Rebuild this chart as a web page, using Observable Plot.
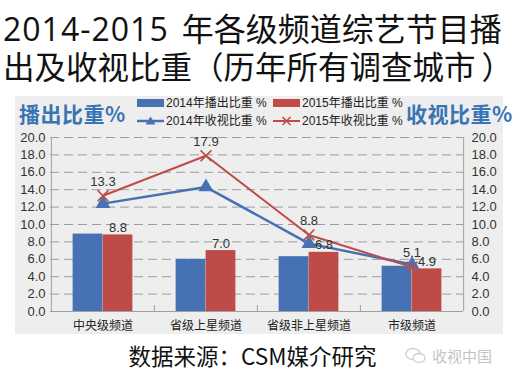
<!DOCTYPE html>
<html><head><meta charset="utf-8">
<script src="https://cdn.jsdelivr.net/npm/d3@7"></script>
<script src="https://cdn.jsdelivr.net/npm/@observablehq/plot@0.6"></script>
<style>
body{margin:0;background:#fff;width:517px;height:381px;overflow:hidden;position:relative;font-family:"Noto Sans CJK SC",sans-serif;}
.tl{position:absolute;left:3px;font-size:32px;line-height:38px;height:38px;color:#111;white-space:nowrap;font-family:"Open Sans","Noto Sans CJK SC",sans-serif;}
#panel{position:absolute;left:15px;top:96px;width:488px;height:238px;background:#eeeeee;}
#chart{position:absolute;left:0;top:97px;}
.lg{position:absolute;font-size:12px;line-height:14px;color:#222;white-space:nowrap;font-family:"Liberation Sans","Noto Sans CJK SC",sans-serif;}
.ax{position:absolute;font-size:21px;font-weight:bold;color:#3a74b4;line-height:24px;white-space:nowrap;letter-spacing:0.5px;}
#caption{position:absolute;left:0;width:505px;text-align:center;top:341px;font-size:22.5px;line-height:28px;color:#111;}
#wm{position:absolute;left:432px;top:346px;font-size:15px;line-height:20px;color:#c4c4c4;}
</style></head>
<body>
<div class="tl" style="top:10px"><span style="letter-spacing:1px">2014-2015</span><span style="display:inline-block;width:13px"></span>年各级频道综艺节目播</div>
<div class="tl" style="top:48px;left:3px;font-size:31.5px">出及收视比重（历年所有调查城市<span style="display:inline-block;width:6px"></span>）</div>
<div id="panel"></div>
<div id="chart"></div>
<div class="ax" style="left:19px;top:101px;">播出比重%</div>
<div class="ax" style="left:406px;top:101px;">收视比重%</div>
<div id="legend"></div>
<div id="caption">数据来源：CSM媒介研究</div>
<svg style="position:absolute;left:404px;top:346px" width="24" height="20"><ellipse cx="9" cy="8" rx="7" ry="5.5" fill="none" stroke="#cfcfcf" stroke-width="1.3"/><ellipse cx="15" cy="12" rx="6" ry="4.5" fill="#fff" stroke="#cfcfcf" stroke-width="1.3"/></svg>
<div id="wm">收视中国</div>
<script>
const categories = ["中央级频道", "省级上星频道", "省级非上星频道", "市级频道"];
const share2014 = [8.9, 6.0, 6.3, 5.2];
const share2015 = [8.8, 7.0, 6.8, 4.9];
const rating2014 = [12.4, 14.3, 7.8, 5.4];
const rating2015 = [13.3, 17.9, 8.8, 5.1];
const yTicks = [0, 2, 4, 6, 8, 10, 12, 14, 16, 18, 20];
const legendLabels = ["2014年播出比重 %", "2015年播出比重 %", "2014年收视比重 %", "2015年收视比重 %"];

const blue = "#4672b4";
const red = "#be4b48";
const data = categories.map((c, i) => ({c, s14: share2014[i], s15: share2015[i], r14: rating2014[i], r15: rating2015[i]}));

const W = 517, H = 245, mL = 50, mR = 54, mT = 40, mB = 31;
const bw = (W - mL - mR) / categories.length;
const barW = 30;
const fmt = d3.format(".1f");
const numFont = "'Liberation Sans', Arial, sans-serif";

const chart = Plot.plot({
  width: W, height: H, marginLeft: mL, marginRight: mR, marginTop: mT, marginBottom: mB,
  style: {background: "transparent", fontFamily: numFont, fontSize: "13px", color: "#333", overflow: "visible"},
  x: {domain: categories, padding: 0, label: null, axis: null},
  y: {domain: [0, 20], label: null, axis: null},
  marks: [
    Plot.ruleY(yTicks.slice(1), {stroke: "#9c9c9c", strokeDasharray: "9,5", strokeWidth: 1}),
    Plot.ruleX([categories[0]], {dx: -bw / 2, stroke: "#a0a0a0"}),
    Plot.ruleX([categories[categories.length - 1]], {dx: bw / 2, stroke: "#a0a0a0"}),
    Plot.ruleX(categories.slice(1), {dx: -bw / 2, stroke: "#a0a0a0", insetTop: H - mT - mB - 6}),
    Plot.barY(data, {x: "c", y: "s14", fill: blue, insetLeft: bw / 2 - barW, insetRight: bw / 2}),
    Plot.barY(data, {x: "c", y: "s15", fill: red, insetLeft: bw / 2, insetRight: bw / 2 - barW}),
    Plot.ruleY([0], {stroke: "#a0a0a0"}),
    Plot.axisY({anchor: "left", ticks: yTicks, tickFormat: fmt, tickSize: 0, tickPadding: 5, fontSize: 13, fill: "#333", label: null}),
    Plot.axisY({anchor: "right", ticks: yTicks, tickFormat: fmt, tickSize: 0, tickPadding: 8, fontSize: 13, fill: "#333", label: null}),
    Plot.axisX({tickSize: 0, tickPadding: 10, fontSize: 12, fill: "#222", label: null, fontFamily: "'Noto Sans CJK SC', sans-serif"}),
    Plot.line(data, {x: "c", y: "r14", stroke: blue, strokeWidth: 2.5}),
    Plot.dot(data, {x: "c", y: "r14", symbol: "triangle", fill: blue, r: 5.5}),
    Plot.line(data, {x: "c", y: "r15", stroke: red, strokeWidth: 2}),
    Plot.dot(data, {x: "c", y: "r15", symbol: "times", stroke: red, strokeWidth: 1.6, r: 5}),
    Plot.text(data, {x: "c", y: "s15", text: d => fmt(d.s15), dx: barW / 2, dy: -3, lineAnchor: "bottom", fontSize: 13, fill: "#333"}),
    Plot.text(data, {x: "c", y: "r15", text: d => fmt(d.r15), dy: -10, lineAnchor: "bottom", fontSize: 13, fill: "#333"})
  ]
});
document.getElementById("chart").appendChild(chart);

// legend
const lg = document.getElementById("legend");
const items = [
  {label: legendLabels[0], kind: "rect", color: blue, x: 137, y: 103},
  {label: legendLabels[1], kind: "rect", color: red, x: 273, y: 103},
  {label: legendLabels[2], kind: "tri", color: blue, x: 137, y: 121},
  {label: legendLabels[3], kind: "x", color: red, x: 273, y: 121}
];
for (const it of items) {
  const ns = "http://www.w3.org/2000/svg";
  const s = document.createElementNS(ns, "svg");
  s.setAttribute("width", 28); s.setAttribute("height", 14);
  s.style.position = "absolute"; s.style.left = it.x + "px"; s.style.top = (it.y - 7) + "px";
  let html = "";
  if (it.kind === "rect") html = `<rect x="0" y="3" width="27" height="8" fill="${it.color}"/>`;
  else if (it.kind === "tri") html = `<line x1="0" x2="27" y1="7" y2="7" stroke="${it.color}" stroke-width="2.5"/><path d="M13.5,2.5 L18.5,10.5 L8.5,10.5Z" fill="${it.color}"/>`;
  else html = `<line x1="0" x2="27" y1="7" y2="7" stroke="${it.color}" stroke-width="2"/><path d="M9.5,3 L17.5,11 M17.5,3 L9.5,11" stroke="${it.color}" stroke-width="1.6"/>`;
  s.innerHTML = html;
  lg.appendChild(s);
  const t = document.createElement("div");
  t.className = "lg"; t.textContent = it.label;
  t.style.left = (it.x + 29) + "px"; t.style.top = (it.y - 7) + "px";
  lg.appendChild(t);
}
</script>
</body></html>
